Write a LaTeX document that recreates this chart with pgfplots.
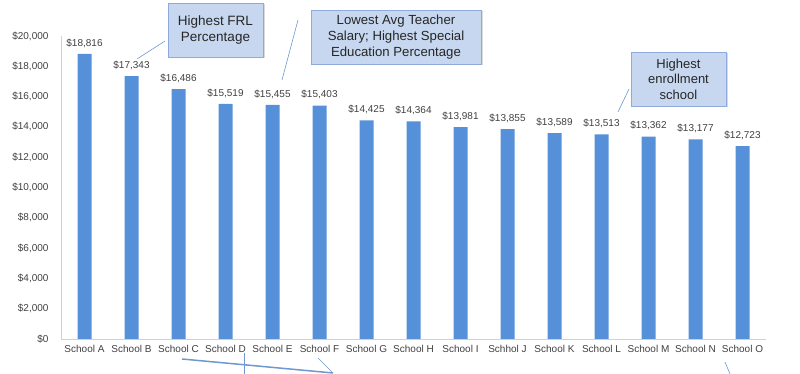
\documentclass[border=0pt]{standalone}
\usepackage{pgfplots}
\pgfplotsset{compat=1.18}
\usepackage{fontspec}
\setmainfont{Liberation Sans}
\usetikzlibrary{shadows}
\definecolor{barblue}{HTML}{5590D8}
\definecolor{txt}{HTML}{404040}
\definecolor{boxfill}{HTML}{C6D7EF}
\definecolor{boxedge}{HTML}{8FAADC}
\definecolor{linecol}{HTML}{6F97D0}
\begin{document}
\begin{tikzpicture}[x=1pt,y=1pt]
\useasboundingbox (0,0) rectangle (800,374);
\begin{axis}[
  at={(61pt,35pt)}, anchor=south west,
  scale only axis, width=705pt, height=303pt,
  xmin=-0.5, xmax=14.5, ymin=0, ymax=20000,
  ytick={0,2000,...,20000},
  scaled y ticks=false,
  xtick={0,...,14},
  xticklabels={School A,School B,School C,School D,School E,School F,School G,School H,School I,Schhol J,School K,School L,School M,School N,School O},
  axis lines=left,
  axis line style={-, draw=black!18, line width=0.8pt},
  major tick length=0pt,
  /pgf/number format/.cd, fixed, precision=0, 1000 sep={,}, assume math mode=true,
  /pgfplots/.cd,
  yticklabel={\$\pgfmathprintnumber{\tick}},
  yticklabel style={font=\fontsize{10}{12}\selectfont, text=txt, xshift=-9pt},
  xticklabel style={font=\fontsize{10}{12}\selectfont, text=txt, yshift=-3pt},
  ybar, bar width=14pt,
  nodes near coords={\$\pgfmathprintnumber{\pgfplotspointmeta}},
  every node near coord/.append style={font=\fontsize{10}{12}\selectfont, text=txt, yshift=3pt},
  clip=false,
]
\addplot[fill=barblue, draw=none] coordinates {
 (0,18816) (1,17343) (2,16486) (3,15519) (4,15455) (5,15403) (6,14425) (7,14364)
 (8,13981) (9,13855) (10,13589) (11,13513) (12,13362) (13,13177) (14,12723)};
\end{axis}
% callout connectors
\draw[linecol, line width=0.6pt] (137,315) -- (165,333);
\draw[linecol, line width=0.6pt] (282,294) -- (298,354);
\draw[linecol, line width=0.6pt] (618,262) -- (629,285);
% callout boxes
\node[draw=boxedge, fill=boxfill, line width=0.8pt, minimum width=95pt, minimum height=54pt,
      align=center, font=\fontsize{13.5}{16.5}\selectfont, text=black!85,
      drop shadow={shadow xshift=1.5pt, shadow yshift=-1.5pt, opacity=0.3}]
      at (215.5,344) {Highest FRL\\Percentage};
\node[draw=boxedge, fill=boxfill, line width=0.8pt, minimum width=170pt, minimum height=54pt,
      align=center, font=\fontsize{13.2}{16}\selectfont, text=black!85,
      drop shadow={shadow xshift=1.5pt, shadow yshift=-1.5pt, opacity=0.3}]
      at (396,337) {Lowest Avg Teacher\\Salary; Highest Special\\Education Percentage};
\node[draw=boxedge, fill=boxfill, line width=0.8pt, minimum width=95pt, minimum height=54pt,
      align=center, font=\fontsize{13}{15.5}\selectfont, text=black!85,
      drop shadow={shadow xshift=1.5pt, shadow yshift=-1.5pt, opacity=0.3}]
      at (678.5,295) {Highest\\enrollment\\school};
% bottom connectors (cropped callouts)
\draw[linecol, line width=1.5pt] (182,15) -- (333,1);
\draw[linecol, line width=0.6pt] (244,21) -- (244,0);
\draw[linecol, line width=0.6pt] (318,16) -- (332,2);
\draw[linecol, line width=0.6pt] (725,12) -- (730,0);
\end{tikzpicture}
\end{document}
